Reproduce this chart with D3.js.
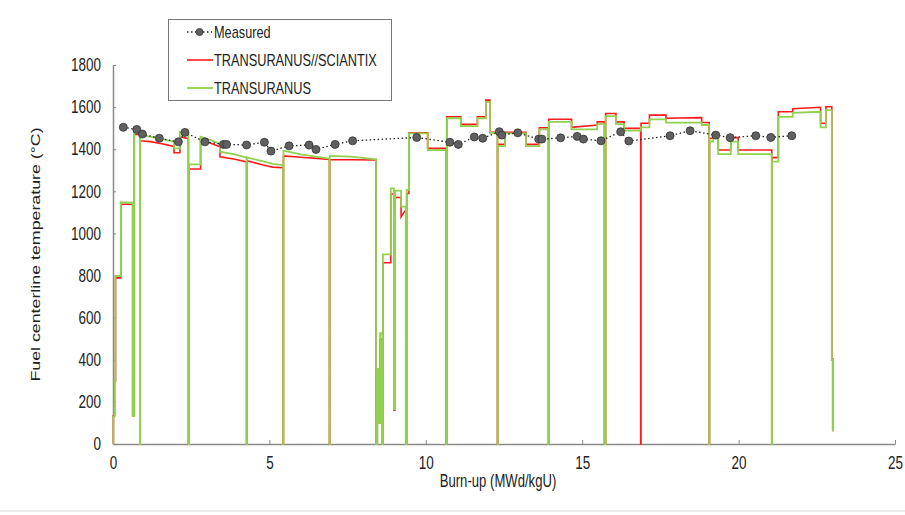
<!DOCTYPE html>
<html>
<head>
<meta charset="utf-8">
<script src="https://cdn.jsdelivr.net/npm/d3@7"></script>
<style>
  html, body { margin: 0; padding: 0; background: #fff; }
  svg { display: block; }
  text { font-family: "Liberation Sans", Arial, sans-serif; fill: #222; }
</style>
</head>
<body>
<svg id="chart" width="905" height="515"></svg>
<script>
// Axis ticks
const xTicks = [0, 5, 10, 15, 20, 25];
const yTicks = [0, 200, 400, 600, 800, 1000, 1200, 1400, 1600, 1800];

// Series names
const seriesNames = ["Measured", "TRANSURANUS//SCIANTIX", "TRANSURANUS"];

// Measured centerline temperature: [burn-up MWd/kgU, °C]
const measured = [
  [0.33,1504],[0.76,1494],[0.94,1472],[1.48,1452],[2.09,1435],[2.30,1480],
  [2.94,1435],[3.53,1423],[3.63,1423],[4.27,1420],[4.84,1433],[5.05,1391],
  [5.63,1416],[6.27,1420],[6.49,1399],[7.10,1423],[7.66,1440],[9.71,1456],
  [10.77,1433],[11.04,1423],[11.55,1458],[11.82,1452],[12.35,1483],[12.43,1467],
  [12.94,1478],[13.61,1448],[13.71,1448],[14.31,1454],[14.84,1461],[15.04,1448],
  [15.60,1440],[16.23,1483],[16.49,1439],[17.81,1464],[18.45,1488],[19.27,1467],
  [19.73,1455],[20.55,1464],[21.03,1456],[21.70,1464]
];

// TRANSURANUS//SCIANTIX calculation: [burn-up, °C]
const coupled = [
  [0.01,0],[0.01,134],[0.05,134],[0.05,300],[0.08,300],[0.08,788],[0.25,790],[0.25,1138],
  [0.63,1140],[0.63,134],[0.68,134],[0.68,1470],[0.86,1470],[0.86,0],[0.87,0],[0.87,1440],
  [1.2,1436],[1.6,1425],[1.95,1413],[1.95,1383],[2.14,1383],[2.14,1459],[2.41,1450],[2.41,0],
  [2.43,0],[2.43,1306],[2.80,1306],[2.80,1447],[3.1,1430],[3.42,1412],[3.42,1364],[3.9,1352],
  [4.27,1340],[4.27,0],[4.28,0],[4.28,1345],[4.8,1325],[5.1,1315],[5.44,1312],[5.44,0],
  [5.45,0],[5.45,1368],[6.0,1362],[6.92,1352],[6.92,0],[6.93,0],[6.93,1350],[7.6,1350],
  [8.41,1349],[8.41,0],[8.45,0],[8.45,355],[8.49,355],[8.49,101],[8.54,101],[8.54,497],
  [8.61,497],[8.61,0],[8.63,0],[8.63,861],[8.88,861],[8.88,1187],[8.98,1187],[8.98,160],
  [9.02,160],[9.02,1171],[9.21,1171],[9.21,1079],[9.30,1100],[9.36,1110],[9.36,0],[9.39,0],
  [9.39,1190],[9.46,1190],[9.46,1478],[10.06,1478],[10.06,1404],[10.65,1404],[10.65,0],[10.67,0],
  [10.67,1554],[11.12,1554],[11.12,1518],[11.65,1518],[11.65,1554],[11.92,1554],[11.92,1633],[12.05,1633],
  [12.05,1480],[12.29,1480],[12.29,0],[12.30,0],[12.30,1423],[12.53,1423],[12.53,1480],[13.20,1480],
  [13.20,1423],[13.63,1423],[13.63,1502],[13.92,1502],[13.92,0],[13.93,0],[13.93,1542],[14.66,1542],
  [14.66,1504],[15.48,1515],[15.48,1530],[15.71,1530],[15.71,0],[15.75,0],[15.75,1570],[16.08,1570],
  [16.08,1530],[16.34,1530],[16.34,1499],[16.87,1499],[16.87,0],[16.88,0],[16.88,1523],[17.15,1523],
  [17.15,1562],[17.68,1562],[17.68,1547],[18.82,1550],[18.82,1527],[19.06,1527],[19.06,0],[19.07,0],
  [19.07,1452],[19.19,1452],[19.19,1475],[19.35,1475],[19.35,1396],[19.75,1396],[19.75,1455],[19.99,1455],
  [19.99,1396],[21.06,1396],[21.06,0],[21.07,0],[21.07,1360],[21.27,1360],[21.27,1578],[21.73,1578],
  [21.73,1592],[22.62,1599],[22.62,1523],[22.79,1523],[22.79,1602],[22.98,1602],[22.98,405],[23.01,405],
  [23.01,60]
];

// TRANSURANUS stand-alone calculation: [burn-up, °C]
const standalone = [
  [0.01,0],[0.01,130],[0.05,130],[0.05,300],[0.08,300],[0.08,798],[0.25,798],[0.25,1148],
  [0.63,1146],[0.63,134],[0.68,134],[0.68,1478],[0.86,1478],[0.86,0],[0.87,0],[0.87,1467],
  [1.2,1460],[1.6,1447],[1.95,1436],[1.95,1404],[2.14,1404],[2.14,1483],[2.41,1476],[2.41,0],
  [2.43,0],[2.43,1328],[2.80,1328],[2.80,1459],[3.1,1445],[3.42,1425],[3.42,1388],[3.9,1375],
  [4.27,1360],[4.27,0],[4.28,0],[4.28,1361],[4.8,1342],[5.1,1330],[5.44,1325],[5.44,0],
  [5.45,0],[5.45,1393],[6.0,1375],[6.92,1355],[6.92,0],[6.93,0],[6.93,1368],[7.6,1365],
  [8.41,1352],[8.41,0],[8.45,0],[8.45,355],[8.49,355],[8.49,101],[8.54,101],[8.54,526],
  [8.61,526],[8.61,0],[8.63,0],[8.63,901],[8.88,901],[8.88,1214],[8.98,1214],[8.98,165],
  [9.02,165],[9.02,1203],[9.21,1203],[9.21,1127],[9.36,1127],[9.36,0],[9.39,0],[9.39,1206],
  [9.46,1206],[9.46,1475],[10.06,1475],[10.06,1396],[10.65,1396],[10.65,0],[10.67,0],[10.67,1547],
  [11.12,1547],[11.12,1510],[11.65,1510],[11.65,1547],[11.92,1547],[11.92,1625],[12.05,1625],[12.05,1478],
  [12.29,1478],[12.29,0],[12.30,0],[12.30,1415],[12.53,1415],[12.53,1475],[13.20,1475],[13.20,1415],
  [13.63,1415],[13.63,1494],[13.92,1494],[13.92,0],[13.93,0],[13.93,1530],[14.66,1530],[14.66,1494],
  [15.48,1494],[15.48,1519],[15.71,1519],[15.71,0],[15.75,0],[15.75,1557],[16.08,1557],[16.08,1519],
  [16.34,1519],[16.34,1488],[16.87,1488],[16.87,1504],[17.15,1504],[17.15,1542],[17.68,1542],[17.68,1526],
  [18.82,1526],[18.82,1515],[19.06,1515],[19.06,0],[19.07,0],[19.07,1436],[19.19,1436],[19.19,1467],
  [19.35,1467],[19.35,1377],[19.75,1377],[19.75,1436],[19.99,1436],[19.99,1377],[21.06,1377],[21.06,0],
  [21.07,0],[21.07,1341],[21.27,1341],[21.27,1554],[21.73,1554],[21.73,1573],[22.62,1578],[22.62,1504],
  [22.79,1504],[22.79,1586],[22.98,1586],[22.98,399],[23.01,399],[23.01,60]
];

const colors = { measured: "#606060", coupled: "#ff1a1a", standalone: "#92d050" };

// narrow lettering: glyphs are compressed horizontally
const SQ = 0.75;

const svg = d3.select("#chart");
const margin = { left: 113, right: 10, top: 65, bottom: 71 };
const W = 905, H = 515;

const x = d3.scaleLinear().domain([0, 25]).range([margin.left, W - margin.right]);
const y = d3.scaleLinear().domain([0, 1800]).range([H - margin.bottom, margin.top]);

// faint rule along the bottom edge
svg.append("rect").attr("x", 0).attr("y", 510).attr("width", W).attr("height", 2)
  .attr("fill", "#ececec");

// axes
const xAxis = svg.append("g").attr("transform", `translate(0,${y(0)})`)
  .call(d3.axisBottom(x).tickValues(xTicks).tickSizeInner(-4).tickSizeOuter(0).tickPadding(12));
const yAxis = svg.append("g").attr("transform", `translate(${x(0)},0)`)
  .call(d3.axisLeft(y).tickValues(yTicks).tickFormat(d3.format("d"))
    .tickSizeInner(-3).tickSizeOuter(0).tickPadding(12));

[xAxis, yAxis].forEach(g => {
  g.select(".domain").attr("stroke", "#8a8a8a").attr("stroke-width", 1.5);
  g.selectAll(".tick line").attr("stroke", "#8a8a8a").attr("stroke-width", 1);
  g.selectAll(".tick text").attr("font-size", 18).attr("fill", "#222")
    .style("font-family", '"Liberation Sans", Arial, sans-serif')
    .attr("transform", `scale(${SQ},1)`);
});
yAxis.selectAll(".tick text").attr("x", -12 / SQ);

// axis titles
svg.append("text").attr("transform", `translate(${(x(0) + x(25)) / 2 - 6},487) scale(${SQ},1)`)
  .attr("text-anchor", "middle").attr("font-size", 17.5).text("Burn-up (MWd/kgU)");
svg.append("text")
  .attr("transform", `translate(40,${(y(0) + y(1800)) / 2}) scale(${SQ},1) rotate(-90)`)
  .attr("text-anchor", "middle").attr("font-size", 17.8).text("Fuel centerline temperature (°C)");

// calculation curves
const line = d3.line().x(d => x(d[0])).y(d => y(d[1]));
svg.append("path").datum(coupled).attr("d", line)
  .attr("fill", "none").attr("stroke", colors.coupled).attr("stroke-width", 1.6);
svg.append("path").datum(standalone).attr("d", line)
  .attr("fill", "none").attr("stroke", colors.standalone).attr("stroke-width", 1.8);

// measurements
svg.append("path").datum(measured).attr("d", line)
  .attr("fill", "none").attr("stroke", "#222").attr("stroke-width", 1.3)
  .attr("stroke-dasharray", "1.5,2.5");
svg.append("g").selectAll("circle").data(measured).join("circle")
  .attr("cx", d => x(d[0])).attr("cy", d => y(d[1])).attr("r", 4)
  .attr("fill", colors.measured).attr("stroke", "#333").attr("stroke-width", 0.8);

// legend
const lg = svg.append("g");
lg.append("rect").attr("x", 168.5).attr("y", 19.5).attr("width", 223).attr("height", 81)
  .attr("fill", "#fff").attr("stroke", "#777").attr("stroke-width", 1);
const rows = [
  { name: seriesNames[0], y: 32, kind: "measured" },
  { name: seriesNames[1], y: 60, kind: "coupled" },
  { name: seriesNames[2], y: 88, kind: "standalone" }
];
rows.forEach(r => {
  if (r.kind === "measured") {
    lg.append("line").attr("x1", 187).attr("x2", 212).attr("y1", r.y).attr("y2", r.y)
      .attr("stroke", "#222").attr("stroke-width", 1.3).attr("stroke-dasharray", "1.5,2.5");
    lg.append("circle").attr("cx", 199.5).attr("cy", r.y).attr("r", 3.5)
      .attr("fill", colors.measured).attr("stroke", "#333").attr("stroke-width", 0.8);
  } else {
    lg.append("line").attr("x1", 187).attr("x2", 213).attr("y1", r.y).attr("y2", r.y)
      .attr("stroke", colors[r.kind]).attr("stroke-width", r.kind === "coupled" ? 1.6 : 1.8);
  }
  lg.append("text").attr("transform", `translate(214,${r.y + 6}) scale(${SQ},1)`)
    .attr("font-size", 17).text(r.name);
});
</script>
</body>
</html>
